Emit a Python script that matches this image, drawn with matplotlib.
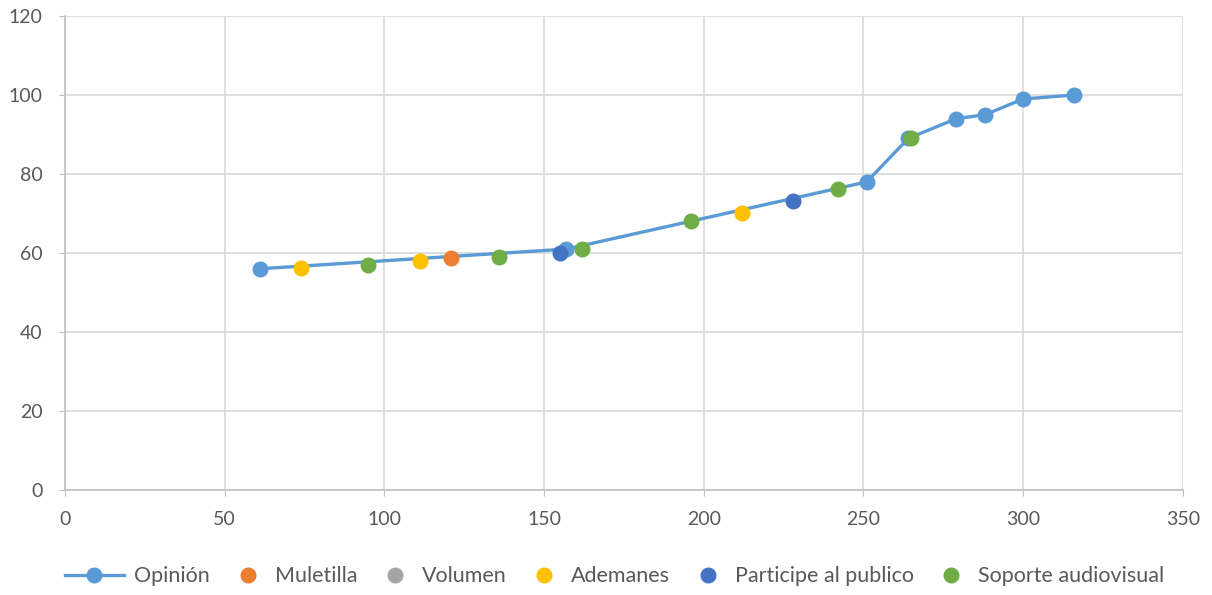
import matplotlib
matplotlib.use('Agg')
from matplotlib import pyplot as plt
from matplotlib.legend_handler import HandlerLine2D

plt.rcParams['font.family'] = ['Lato', 'DejaVu Sans']

# series values (x, y)
opinion_x = [61, 157, 251, 264, 279, 288, 300, 316]
opinion_y = [56, 61, 78, 89, 94, 95, 99, 100]

muletilla_x = [121]
muletilla_y = [58.7]

volumen_x = []
volumen_y = []

ademanes_x = [74, 111, 212]
ademanes_y = [56.2, 58, 70]

participe_x = [155, 228]
participe_y = [60.1, 73.2]

soporte_x = [95, 136, 162, 196, 242, 265]
soporte_y = [57, 59.1, 61, 68.1, 76.1, 89.1]

x_ticks = [0, 50, 100, 150, 200, 250, 300, 350]
y_ticks = [0, 20, 40, 60, 80, 100, 120]


# line entry in the legend gets a longer stroke than the marker-only ones
class LongLine(HandlerLine2D):
    def create_artists(self, legend, orig_handle, xdescent, ydescent, width, height, fontsize, trans):
        return super().create_artists(legend, orig_handle, xdescent + width * 0.8, ydescent,
                                      width * 1.8, height, fontsize, trans)


fig = plt.figure(figsize=(12.12, 5.95), dpi=100)
ax = fig.add_axes([0.0536, 0.1765, 0.9224, 0.7966])

ms = 10.5
line_op, = ax.plot(opinion_x, opinion_y, '-o', color='#5B9BD5', lw=2.4, ms=ms, label='Opinión', zorder=3)
ax.plot(muletilla_x, muletilla_y, 'o', color='#ED7D31', ms=ms, label='Muletilla', zorder=4)
ax.plot(volumen_x, volumen_y, 'o', color='#A5A5A5', ms=ms, label='Volumen', zorder=4)
ax.plot(ademanes_x, ademanes_y, 'o', color='#FFC000', ms=ms, label='Ademanes', zorder=4)
ax.plot(participe_x, participe_y, 'o', color='#4472C4', ms=ms, label='Participe al publico', zorder=4)
ax.plot(soporte_x, soporte_y, 'o', color='#70AD47', ms=ms, label='Soporte audiovisual', zorder=4)

ax.set_xlim(0, 350)
ax.set_ylim(0, 120)
ax.set_xticks(x_ticks)
ax.set_yticks(y_ticks)
ax.grid(True, color='#D9D9D9', lw=1.2)
ax.set_axisbelow(True)

for s in ['top', 'right']:
    ax.spines[s].set_visible(False)
for s in ['left', 'bottom']:
    ax.spines[s].set_color('#BFBFBF')
    ax.spines[s].set_linewidth(1.2)

ax.tick_params(axis='both', colors='#BFBFBF', labelcolor='#595959', labelsize=14, length=4)
ax.tick_params(axis='x', pad=11, direction='out')
ax.tick_params(axis='y', pad=12)

leg = fig.legend(loc='lower center', bbox_to_anchor=(0.518, -0.018), ncol=6, frameon=False,
                 fontsize=15.5, handlelength=1.5, columnspacing=1.0, handletextpad=0.5,
                 handler_map={line_op: LongLine()})
for t in leg.get_texts():
    t.set_color('#595959')

fig.savefig('out.png', dpi=100)
